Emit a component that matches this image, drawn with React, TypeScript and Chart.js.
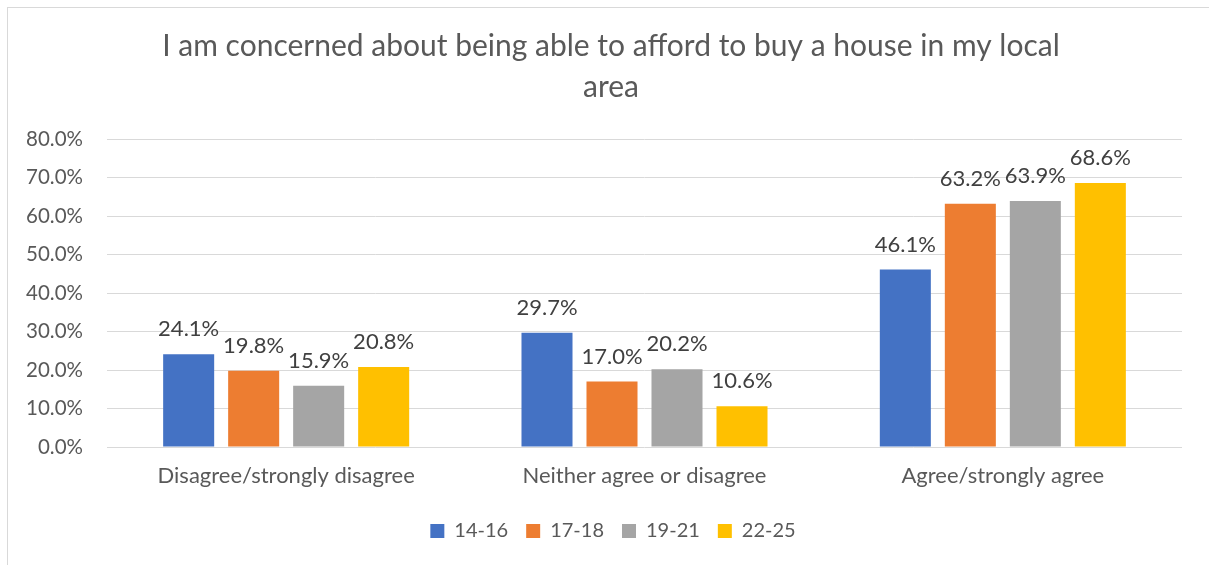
import React, { useEffect, useRef } from "react";
import { Chart, registerables } from "chart.js";

Chart.register(...registerables);

const titleLines = ["I am concerned about being able to afford to buy a house in my local", "area"];
const categories = ["Disagree/strongly disagree", "Neither agree or disagree", "Agree/strongly agree"];
const seriesLabels = ["14-16", "17-18", "19-21", "22-25"];
const s14_16 = [24.1, 29.7, 46.1];
const s17_18 = [19.8, 17.0, 63.2];
const s19_21 = [15.9, 20.2, 63.9];
const s22_25 = [20.8, 10.6, 68.6];
const seriesColors = ["#4472C4", "#ED7D31", "#A5A5A5", "#FFC000"];
const yMin = 0;
const yMax = 80;
const yStep = 10;

const FONT = "Lato";
const TEXT = "#595959";
const LABEL = "#404040";
const GRID = "#D9D9D9";

const dataLabelPlugin = {
  id: "dataLabels",
  afterDatasetsDraw(chart: any) {
    const ctx = chart.ctx;
    ctx.save();
    ctx.font = `22px ${FONT}`;
    ctx.fillStyle = LABEL;
    ctx.textAlign = "center";
    ctx.textBaseline = "middle";
    chart.data.datasets.forEach((ds: any, i: number) => {
      const meta = chart.getDatasetMeta(i);
      meta.data.forEach((el: any, j: number) => {
        const v = ds.data[j] as number;
        ctx.fillText(v.toFixed(1) + "%", el.x, el.y - 25);
      });
    });
    ctx.restore();
  },
};

const shiftPlugin = {
  id: "boxShift",
  afterLayout(chart: any) {
    const lg = chart.legend;
    if (lg) {
      lg.left += 18;
      lg.right += 18;
    }
    const tb = chart.titleBlock;
    if (tb) {
      tb.left += 16;
      tb.right += 16;
    }
  },
};

export default function App() {
  const ref = useRef<HTMLCanvasElement | null>(null);

  useEffect(() => {
    if (!ref.current) return;
    const all = [s14_16, s17_18, s19_21, s22_25];
    const chart = new Chart(ref.current, {
      type: "bar",
      data: {
        labels: categories,
        datasets: all.map((d, i) => ({
          label: seriesLabels[i],
          data: d,
          backgroundColor: seriesColors[i],
          borderWidth: 0,
          categoryPercentage: 0.7256,
          barPercentage: 0.785,
        })),
      },
      options: {
        responsive: false,
        animation: false,
        layout: { padding: { left: 0, right: 27, top: 0, bottom: 14 } },
        plugins: {
          title: {
            display: true,
            text: titleLines,
            color: TEXT,
            font: { family: FONT, size: 30, weight: "normal", lineHeight: 41 / 30 },
            padding: { top: 18, bottom: 31 },
          },
          legend: {
            display: true,
            position: "bottom",
            labels: {
              boxWidth: 14,
              boxHeight: 14,
              padding: 18,
              color: TEXT,
              font: { family: FONT, size: 20 },
            },
          },
          tooltip: { enabled: false },
        },
        scales: {
          x: {
            grid: { display: false },
            border: { display: false },
            ticks: {
              color: TEXT,
              font: { family: FONT, size: 22 },
              padding: 8,
              maxRotation: 0,
            },
            afterFit: (s: any) => {
              s.height = 56;
            },
          },
          y: {
            min: yMin,
            max: yMax,
            grid: { color: GRID, lineWidth: 1, drawTicks: false },
            border: { display: false },
            ticks: {
              stepSize: yStep,
              color: TEXT,
              font: { family: FONT, size: 20.5 },
              padding: 24,
              callback: (v: any) => Number(v).toFixed(1) + "%",
            },
            afterFit: (s: any) => {
              s.width = 99;
            },
          },
        },
      },
      plugins: [dataLabelPlugin, shiftPlugin],
    });
    return () => chart.destroy();
  }, []);

  return (
    <div
      style={{
        position: "fixed",
        left: 7,
        top: 7,
        width: 1202,
        height: 558,
        boxSizing: "border-box",
        borderLeft: "1px solid #D9D9D9",
        borderTop: "1px solid #D9D9D9",
        background: "#fff",
      }}
    >
      <canvas ref={ref} width={1201} height={557} style={{ display: "block" }} />
    </div>
  );
}
